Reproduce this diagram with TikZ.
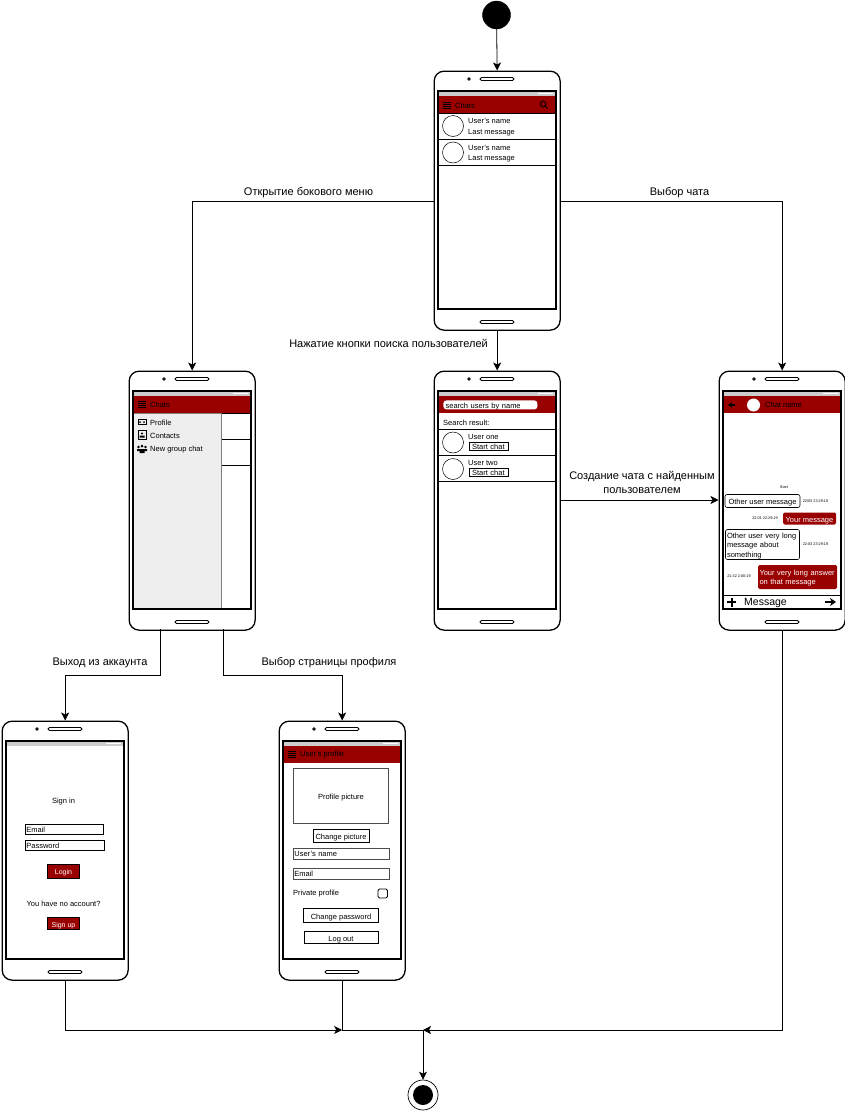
\documentclass[tikz,border=0pt]{standalone}
\usepackage{fontspec}
\setmainfont{Liberation Sans}
\usetikzlibrary{arrows.meta,calc}
\definecolor{hdr}{HTML}{990000}
\definecolor{stat}{HTML}{CCCCCC}
\definecolor{side}{HTML}{EEEEEE}
\tikzset{
 x=1pt,y=-1pt,
 conn/.style={draw=black,line width=0.8pt,-{Stealth[length=8pt,width=8pt,inset=2pt]}},
 plain/.style={draw=black,line width=0.8pt},
 lab/.style={font=\fontsize{11}{13.5}\selectfont,inner sep=0pt,align=center,text=black,yshift=-1pt},
 tx/.style={text height=7pt,text depth=0pt},
 sm/.style={font=\fontsize{7.5}{9.5}\selectfont,inner sep=0pt,anchor=west,align=left,text=black,yshift=-1pt},
 tiny/.style={font=\fontsize{3.8}{5}\selectfont,inner sep=0pt,text=black},
 body/.style={draw=black,line width=1.3pt,rounded corners=10pt,fill=white,minimum width=126pt,minimum height=259pt,inner sep=0pt,anchor=north west,xshift=-0.5pt,yshift=0.5pt},
 field/.style={tx,draw=black,line width=0.8pt,fill=white,inner sep=0pt,anchor=north west,font=\fontsize{7.5}{8}\selectfont,text=black},
 redbtn/.style={tx,draw=black,line width=0.7pt,fill=hdr,text=white,inner sep=0pt,font=\fontsize{7}{8}\selectfont},
 btn/.style={tx,fill=white,inner sep=0pt,font=\fontsize{7.5}{8}\selectfont},
 avatar/.style={circle,draw=black,line width=0.5pt,fill=white,minimum size=21pt,inner sep=0pt},
}
% #1 name, #2 left, #3 top
\newcommand\phone[3]{%
 \node[body] (#1) at (#2,#3) {};
 \begin{scope}[shift={(#2,#3)}]
  \draw[line width=0.8pt,fill=white] (35,8) circle (1.3);
  \draw[line width=0.8pt,fill=white,rounded corners=1.5pt] (46,6.5) rectangle (80,9.5);
  \draw[line width=0.8pt,fill=white,rounded corners=1.5pt] (46,249.5) rectangle (80,252.5);
  \fill[white] (4.5,20) rectangle (121.5,238);
  \fill[stat] (4.5,20.5) rectangle (121.5,25);
  \fill[white] (104,21.5) rectangle (119,22.6);
 \end{scope}}
\newcommand\screenframe[2]{\draw[line width=1.4pt] (#1+4,#2+20) rectangle (#1+121.8,#2+238);}
\newcommand\burger[2]{\draw[black,line width=0.8pt] (#1,#2-3) -- ++(8,0) (#1,#2-1) -- ++(8,0) (#1,#2+1) -- ++(8,0) (#1,#2+3) -- ++(8,0);}
\begin{document}
\begin{tikzpicture}
\useasboundingbox (0,0) rectangle (845,1111);
\fill[white] (0,0) rectangle (845,1111);

\node[circle,fill=black,draw=black,minimum size=28pt,inner sep=0pt] (start) at (496.5,15) {};

\phone{A}{434}{71}
\phone{B}{129}{371}
\phone{C}{434}{371}
\phone{D}{719}{371}
\phone{E}{2}{721}
\phone{F}{279}{721}

% --- A: chats
\fill[hdr] (438,96) rectangle (555.5,113);
\burger{443}{105}
\node[sm] (achats) at (455,104.5) {Chats};
\draw[black,line width=0.9pt] (543,104) circle (2.8) (545,106) -- (547.5,108.5);
\draw[line width=0.7pt] (438.5,113) rectangle (555,139);
\draw[line width=0.7pt] (438.5,139) rectangle (555,165);
\node[avatar] (aa1) at (453,126) {};
\node[avatar] (aa2) at (453,152.5) {};
\node[sm] (at1) at (468,120) {User's name};
\node[sm] (at2) at (468,132) {Last message};
\node[sm] (at3) at (468,146.5) {User's name};
\node[sm] (at4) at (468,158) {Last message};

% --- B: side menu
\fill[hdr] (133,396) rectangle (250.5,413);
\burger{138}{404}
\node[sm] (bchats) at (150,404) {Chats};
\draw[line width=0.7pt] (221,413) -- (250,413);
\draw[line width=0.7pt] (221,439) -- (250,439);
\draw[line width=0.7pt] (221,465) -- (250,465);
\draw[line width=0.5pt,draw=gray,fill=side] (133.5,413.5) rectangle (221,608.5);
\draw[line width=0.8pt] (138,419.5) rectangle (146,424.5);
\fill (140,422) circle (1) (144,422) circle (1);
\draw[line width=0.8pt] (138,430.5) rectangle (146,439);
\fill (142,433.5) circle (1.2) (139.5,437.5) rectangle (144.5,435.5);
\fill (142,446) circle (1.5) (138.5,447) circle (1.3) (145.5,447) circle (1.3) (137,451) rectangle (147,449) (139.5,453) rectangle (144.5,449);
\node[sm] (bt1) at (150,422) {Profile};
\node[sm] (bt2) at (150,434.5) {Contacts};
\node[sm] (bt3) at (150,449) {New group chat};

% --- C: search
\fill[hdr] (438,396) rectangle (555.5,413);
\node[field,rounded corners=3pt,draw=none,minimum width=94pt,minimum height=9pt,text width=92pt,align=left] (csearch) at (443,400) {\,search users by name};
\node[sm] (cres) at (443,422) {Search result:};
\draw[line width=0.7pt] (438.5,429.5) rectangle (555,455.5);
\draw[line width=0.7pt] (438.5,455.5) rectangle (555,481.5);
\node[avatar] (ca1) at (453,442.5) {};
\node[avatar] (ca2) at (453,469) {};
\node[sm] (cu1) at (468,436) {User one};
\node[sm] (cu2) at (468,462) {User two};
\node[field,minimum width=39pt,minimum height=8pt,text width=38pt,align=center] (cb1) at (468.5,441.5) {Start chat};
\node[field,minimum width=39pt,minimum height=8pt,text width=38pt,align=center] (cb2) at (468.5,467.5) {Start chat};

% --- D: chat
\fill[hdr] (723,396) rectangle (840.5,413);
\draw[black,line width=1.1pt,-{Stealth[length=4pt,width=5.5pt]}] (735,405) -- (728,405);
\node[circle,fill=white,minimum size=13pt,inner sep=0pt] (dav) at (753.5,405) {};
\node[sm] (dname) at (765,404) {Chat name};
\node[tiny] (dstart) at (784,487.5) {Start};
\node[btn,draw=black,line width=0.6pt,rounded corners=2pt,minimum width=75pt,minimum height=13pt] (dm1) at (762.5,501) {Other user message};
\node[tiny] (dt1) at (815.5,501.5) {22/03 23:29:19};
\node[tiny] (dt2) at (765,518.5) {22:01 22:29:19};
\node[btn,fill=hdr,text=white,rounded corners=1.5pt,minimum width=53pt,minimum height=12pt] (dm2) at (809.5,518.5) {Your message};
\node[draw=black,line width=0.6pt,rounded corners=2pt,fill=white,inner sep=0pt,minimum width=74pt,minimum height=30pt,text width=71pt,align=left,font=\fontsize{7.5}{9.3}\selectfont] (dm3) at (762.5,544.5) {\rule{0pt}{8pt}Other user very long\\message about\\something};
\node[tiny] (dt3) at (815.5,544.5) {22:03 23:29:19};
\node[tiny] (dt4) at (739,576.5) {21:32 2:00:19};
\node[draw=none,rounded corners=1.5pt,fill=hdr,text=white,inner sep=0pt,minimum width=79pt,minimum height=24pt,text width=76pt,align=left,font=\fontsize{7.5}{9.3}\selectfont] (dm4) at (797.5,577) {\rule{0pt}{8pt}Your very long answer\\on that message};
\draw[line width=0.8pt] (723.5,595) -- (840,595);
\draw[black,line width=2pt] (727,602) -- (736,602) (731.5,597.5) -- (731.5,606.5);
\node[sm,font=\fontsize{10.5}{11}\selectfont] (dmsg) at (744,602) {Message};
\draw[black,line width=1.5pt,-{Stealth[length=6pt,width=8pt]}] (825,602) -- (836,602);

% --- E: sign in
\node[lab,font=\fontsize{7.5}{8}\selectfont] (esign) at (63.5,800.5) {Sign in};
\node[field,minimum width=78pt,minimum height=10pt,text width=76pt,align=left] (eemail) at (25,824) {Email};
\node[field,minimum width=79pt,minimum height=10pt,text width=77pt,align=left] (epass) at (25,839.5) {Password};
\node[redbtn,minimum width=32pt,minimum height=14pt] (elogin) at (63.5,871) {Login};
\node[lab,font=\fontsize{7.5}{8}\selectfont] (eno) at (63.5,903) {You have no account?};
\node[redbtn,minimum width=32pt,minimum height=12pt] (esignup) at (63.5,923.5) {Sign up};

% --- F: profile
\fill[hdr] (283,746) rectangle (400.5,763);
\burger{288}{754}
\node[sm] (fname) at (300,754) {User's profile};
\node[btn,draw=black!70,line width=0.7pt,minimum width=95pt,minimum height=55pt] (fpic) at (341,796) {Profile picture};
\node[btn,draw=black,line width=0.9pt,minimum width=56pt,minimum height=13pt] (fch) at (341,835.5) {Change picture};
\node[field,draw=black!70,minimum width=96pt,minimum height=11pt,text width=94pt,align=left] (fuser) at (293,847.5) {User's name};
\node[field,draw=black!70,minimum width=96pt,minimum height=11pt,text width=94pt,align=left] (femail) at (293,867.5) {Email};
\node[sm] (fpriv) at (293,892.5) {Private profile};
\draw[line width=0.9pt,fill=white,rounded corners=1.5pt] (378,889) rectangle (387.5,898);
\node[btn,draw=black,line width=0.8pt,minimum width=75pt,minimum height=14pt] (fpwd) at (341,915.5) {Change password};
\node[btn,draw=black,line width=0.8pt,minimum width=74pt,minimum height=12pt] (flog) at (341,937.5) {Log out};

% --- screen frames over contents
\screenframe{434}{71}
\screenframe{129}{371}
\screenframe{434}{371}
\screenframe{719}{371}
\screenframe{2}{721}
\screenframe{279}{721}

% --- end node
\node[circle,draw=black,line width=0.7pt,fill=white,minimum size=30pt,inner sep=0pt] (endo) at (423,1095) {};
\node[circle,fill=black,minimum size=20pt,inner sep=0pt] (endi) at (423,1095) {};

% --- connectors
\coordinate (j1) at (F.south |- 0,1030);
\coordinate (j2) at (endo.north |- 0,1030);
\draw[conn] (start) -- (A.north);
\draw[conn] (A.west |- 0,201) -- (B.north |- 0,201) -- (B.north);
\draw[conn] (A.east |- 0,201) -- (D.north |- 0,201) -- (D.north);
\draw[conn] (A.south) -- (C.north);
\draw[conn] (C.east |- 0,500) -- (D.west |- 0,500);
\draw[conn] (160,629) -- (160,675) -- (E.north |- 0,675) -- (E.north);
\draw[conn] (223,629) -- (223,675) -- (F.north |- 0,675) -- (F.north);
\draw[conn] (E.south) -- (E.south |- j1) -- (j1);
\draw[plain] (F.south) -- (j1) -- (j2);
\draw[conn] (D.south) -- (D.south |- j2) -- (j2);
\draw[conn] (j2) -- (endo.north);

% --- labels
\node[lab] (l1) at (308.5,191.5) {Открытие бокового меню};
\node[lab] (l2) at (679.5,191.5) {Выбор чата};
\node[lab,anchor=east] (l3) at (488,342.5) {Нажатие кнопки поиска пользователей};
\node[lab] (l4) at (642,481.5) {Создание чата с найденным\\пользователем};
\node[lab] (l5) at (100,661.5) {Выход из аккаунта};
\node[lab] (l6) at (329,661.5) {Выбор страницы профиля};
\end{tikzpicture}
\end{document}
